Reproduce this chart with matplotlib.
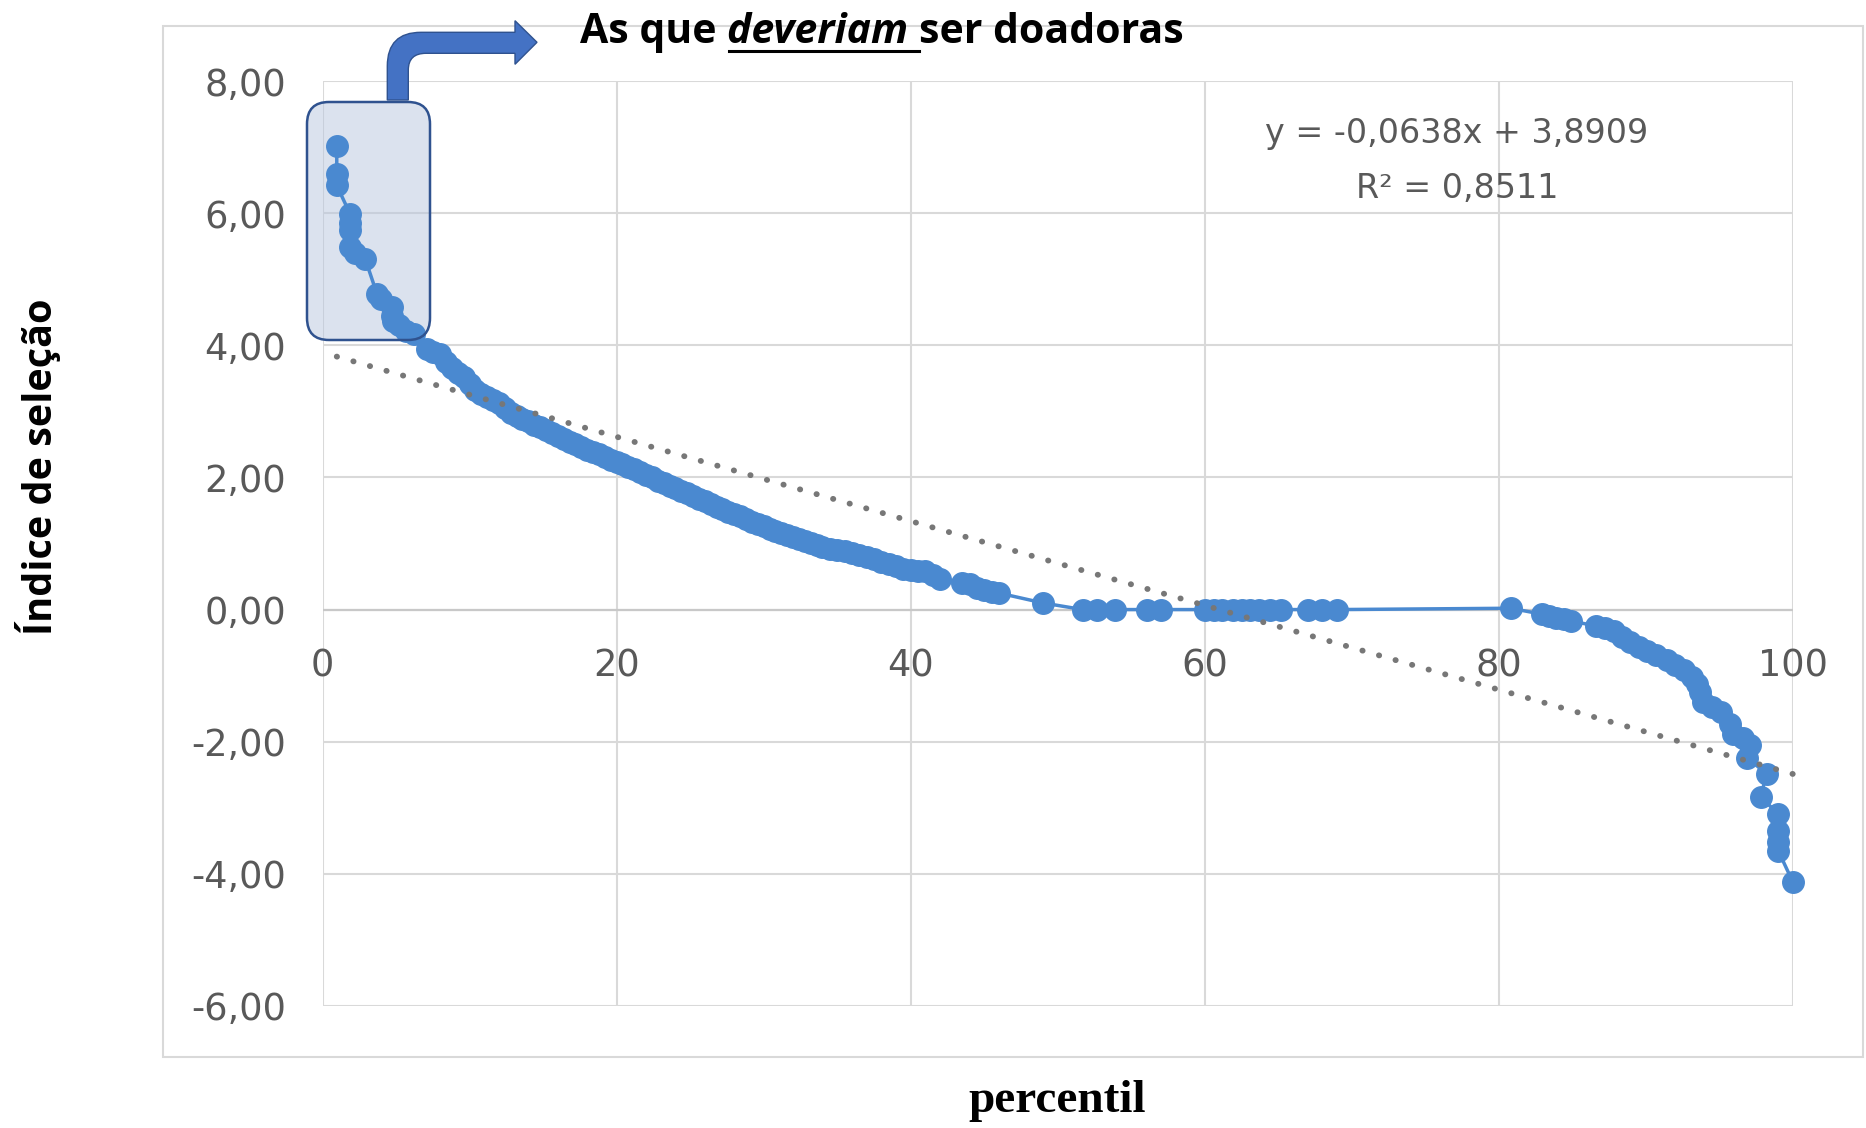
import matplotlib
matplotlib.use('Agg')
import matplotlib.pyplot as plt
from matplotlib.patches import FancyBboxPatch, PathPatch, Rectangle
from matplotlib.path import Path
from matplotlib.lines import Line2D
from matplotlib.transforms import IdentityTransform

W, H = 1866, 1128

# percentil (x) and índice de seleção (y)
percentil = [0.97, 0.97, 0.97, 1.87, 1.87, 1.87, 1.9, 2.2, 2.9, 3.7, 4.0, 4.7, 4.7, 4.8, 5.2, 5.7, 6.2,
             7.1, 7.5, 8.0, 8.4, 8.8, 9.2, 9.6, 10.0, 10.4, 10.8, 11.2, 11.6, 12.0, 12.4, 12.8, 13.2,
             13.6, 14.0, 14.4, 14.8, 15.2, 15.6, 16.0, 16.4, 16.8, 17.2, 17.6, 18.0, 18.4, 18.8, 19.2,
             19.6, 20.0, 20.4, 20.8, 21.2, 21.6, 22.0, 22.4, 22.8, 23.2, 23.6, 24.0, 24.4, 24.8, 25.2,
             25.6, 26.0, 26.4, 26.8, 27.2, 27.6, 28.0, 28.4, 28.8, 29.2, 29.6, 30.0, 30.4, 30.8, 31.2,
             31.6, 32.0, 32.4, 32.8, 33.2, 33.6, 34.0, 34.5, 35.0, 35.5, 36.0, 36.5, 37.0, 37.5, 38.0,
             38.5, 39.0, 39.5, 40.0, 40.5, 41.0, 41.5, 42.0, 43.5, 44.0, 44.5, 45.0, 45.5, 46.0, 49.0,
             51.7, 52.7, 53.9, 56.1, 57.0, 60.0, 60.6, 61.2, 61.9, 62.5, 63.1, 63.7, 64.4, 65.2,
             67.0, 68.0, 69.0, 80.8, 82.9, 83.4, 83.9, 84.4, 84.9, 86.6, 87.2, 87.8, 88.4, 88.9, 89.5,
             90.1, 90.7, 91.4, 92.0, 92.6, 93.1, 93.5, 93.7, 93.9, 94.5, 95.1, 95.7, 95.9, 96.6, 97.1,
             96.9, 98.2, 97.8, 99.0, 99.0, 99.0, 99.0, 100.0]
indice = [7.02, 6.59, 6.42, 5.99, 5.85, 5.75, 5.48, 5.40, 5.31, 4.78, 4.70, 4.58, 4.45, 4.37, 4.30, 4.22, 4.17,
          3.95, 3.90, 3.87, 3.75, 3.65, 3.58, 3.52, 3.42, 3.32, 3.27, 3.22, 3.17, 3.12, 3.05, 2.98, 2.93,
          2.88, 2.85, 2.80, 2.76, 2.72, 2.67, 2.62, 2.58, 2.53, 2.50, 2.46, 2.42, 2.38, 2.35, 2.31,
          2.27, 2.24, 2.20, 2.16, 2.13, 2.08, 2.04, 2.00, 1.95, 1.91, 1.87, 1.84, 1.80, 1.76, 1.72,
          1.68, 1.64, 1.60, 1.56, 1.52, 1.48, 1.44, 1.41, 1.37, 1.33, 1.29, 1.26, 1.22, 1.19, 1.16,
          1.13, 1.10, 1.07, 1.04, 1.01, 0.98, 0.95, 0.92, 0.90, 0.88, 0.86, 0.83, 0.80, 0.76, 0.72,
          0.69, 0.66, 0.62, 0.60, 0.59, 0.58, 0.53, 0.47, 0.40, 0.38, 0.32, 0.29, 0.27, 0.25, 0.10,
          0.0, 0.0, 0.0, 0.0, 0.0, 0.0, 0.0, 0.0, 0.0, 0.0, 0.0, 0.0, 0.0, 0.0,
          0.0, 0.0, 0.0, 0.02, -0.07, -0.09, -0.12, -0.14, -0.17, -0.25, -0.28, -0.32, -0.42, -0.49, -0.56,
          -0.62, -0.69, -0.77, -0.84, -0.92, -1.02, -1.12, -1.25, -1.40, -1.48, -1.55, -1.73, -1.88, -1.95, -2.05,
          -2.24, -2.49, -2.84, -3.09, -3.35, -3.52, -3.65, -4.13]

trend_slope = -0.0638
trend_icept = 3.8909
r_squared = 0.8511

x_ticks = [0, 20, 40, 60, 80, 100]
y_ticks = [-6, -4, -2, 0, 2, 4, 6, 8]

BLUE = '#4a89d0'
GRID = '#d9d9d9'
TXT = '#595959'


def fx(x): return x / W
def fy(y): return 1 - y / H


fig = plt.figure(figsize=(W / 100, H / 100), dpi=100)
fig.patch.set_facecolor('white')

# chart-area border
fig.add_artist(Rectangle((fx(163), fy(1057)), fx(1863) - fx(163), (1057 - 26) / H,
                         transform=fig.transFigure, fill=False, ec=GRID, lw=1.5, zorder=0))

ax = fig.add_axes([fx(322.5), fy(1006), (1793 - 322.5) / W, (1006 - 81) / H])
ax.set_facecolor('none')
ax.set_xlim(0, 100); ax.set_ylim(-6, 8)
ax.set_xticks(x_ticks); ax.set_yticks(y_ticks)
ax.set_yticklabels([f'{v:.2f}'.replace('.', ',') for v in y_ticks])
ax.grid(True, color=GRID, lw=1.5, zorder=0)
ax.set_axisbelow(True)
for s in ax.spines.values(): s.set_visible(False)
ax.spines['bottom'].set_position(('data', 0))
ax.axhline(0, color='#c8c8c8', lw=1.6, zorder=0.6)
ax.tick_params(length=0, labelsize=26.5, labelcolor=TXT)
ax.tick_params(axis='x', pad=27)
ax.tick_params(axis='y', pad=26)

# highlight box (behind the points, inside the axes so z-order applies)
ax.add_patch(FancyBboxPatch((307, H - 340), 123, 238, boxstyle='round,pad=0,rounding_size=22',
                            transform=IdentityTransform(), fc='#b8c6de', alpha=0.5, ec='none',
                            zorder=1.5, clip_on=False))

ax.plot(percentil, indice, '-o', color=BLUE, lw=2.5, ms=15.5, mec=BLUE, zorder=3, clip_on=False)

tx = [min(percentil), max(percentil)]
ax.plot(tx, [trend_slope * v + trend_icept for v in tx], color='#777777', lw=4.2,
        linestyle=(0, (0.05, 2.9)), dash_capstyle='round', zorder=4, clip_on=False)

# box outline on top
ax.add_patch(FancyBboxPatch((307, H - 340), 123, 238, boxstyle='round,pad=0,rounding_size=22',
                            transform=IdentityTransform(), fc='none', ec='#2f528f', lw=1.8,
                            zorder=5, clip_on=False))

# bent arrow
pts = [(387.3, 100), (387.3, 66), (387.3, 32.3), (421, 32.3), (515, 32.3), (515, 20.7), (537, 42.3),
       (515, 64.3), (515, 53.3), (426, 53.3), (408.3, 53.3), (408.3, 70), (408.3, 100), (387.3, 100)]
codes = [Path.MOVETO, Path.LINETO, Path.CURVE3, Path.CURVE3, Path.LINETO, Path.LINETO, Path.LINETO,
         Path.LINETO, Path.LINETO, Path.LINETO, Path.CURVE3, Path.CURVE3, Path.LINETO, Path.CLOSEPOLY]
fig.add_artist(PathPatch(Path([(x, H - y) for x, y in pts], codes), transform=IdentityTransform(),
                         fc='#4472c4', ec='#2f528f', lw=1, zorder=5))

# trendline equation
eq = f'y = {trend_slope:.4f}x + {trend_icept:.4f}'.replace('.', ',')
fig.text(fx(1457), fy(133), eq, ha='center', va='center', fontsize=24, color=TXT)
fig.text(fx(1457), fy(188), f'R² = {r_squared:.4f}'.replace('.', ','), ha='center', va='center',
         fontsize=24, color=TXT)

# axis titles
fig.text(fx(38), fy(467), 'Índice de seleção', rotation=90, ha='center', va='center',
         fontsize=28.5, fontweight='bold', family='Open Sans')
fig.text(fx(1057), fy(1101), 'percentil', ha='center', va='center', fontsize=34,
         fontweight='bold', family='Liberation Serif')

# callout title, pieced together so "deveriam " can be italic + underlined
tkw = dict(fontsize=29.5, fontweight='bold', family='Open Sans', va='baseline')
t1 = fig.text(fx(580), fy(43), 'As que ', **tkw)
fig.canvas.draw()
r = fig.canvas.get_renderer()
b1 = t1.get_window_extent(r)
t2 = fig.text(b1.x1 / W, fy(43), 'deveriam ', style='italic', **tkw)
b2 = t2.get_window_extent(r)
t3 = fig.text(b2.x1 / W, fy(43), 'ser doadoras', **tkw)
fig.add_artist(Line2D([b2.x0 + 2, b2.x1], [H - 51, H - 51], transform=IdentityTransform(),
                      color='black', lw=2.2))

fig.savefig('out.png', dpi=100)
